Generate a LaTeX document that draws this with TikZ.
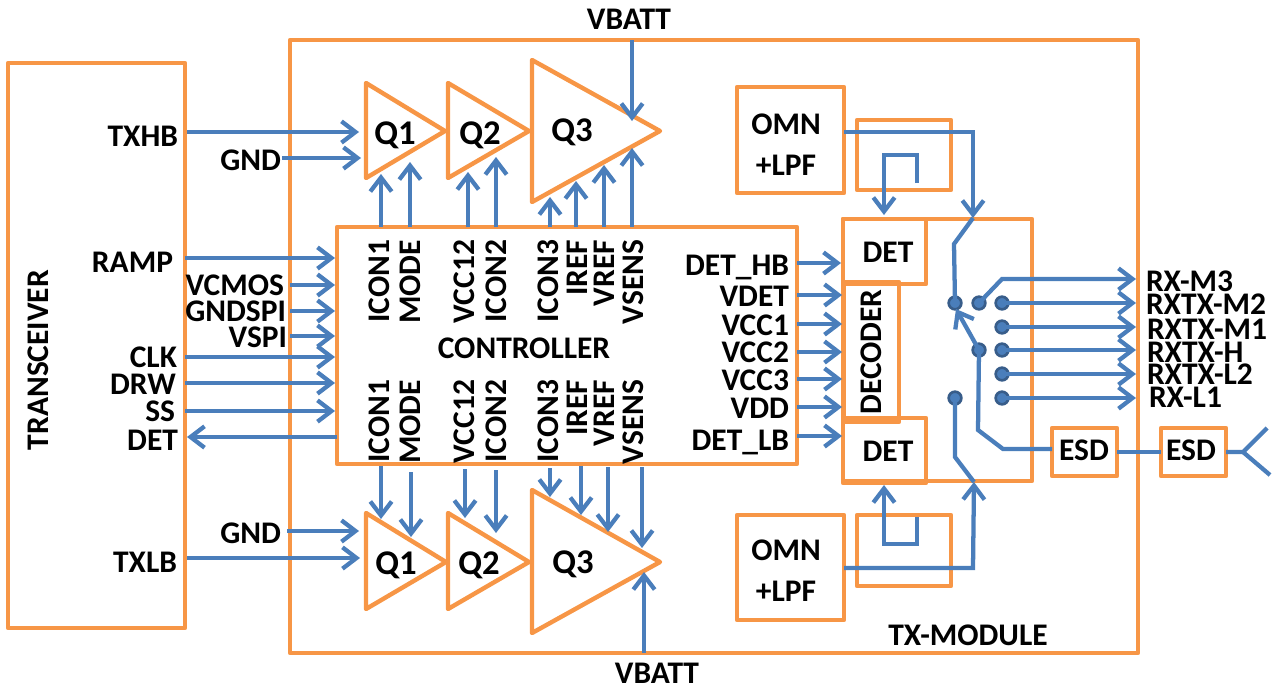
\documentclass[tikz,border=0pt]{standalone}
\usepackage{fontspec}
\setmainfont{Carlito}
\usetikzlibrary{arrows.meta,calc}
\definecolor{org}{HTML}{F79646}
\definecolor{blu}{HTML}{4A7EBB}
\definecolor{dotb}{HTML}{385D8A}
\newcommand{\bx}[5]{%
  \pgfmathsetmacro{\bw}{(#4-#2)*0.75}\pgfmathsetmacro{\bh}{(#5-#3)*0.75}%
  \node[boxn,minimum width=\bw pt,minimum height=\bh pt] (#1) at ({(#2+#4)/2},{(#3+#5)/2}) {};}
\tikzset{
  boxn/.style={draw=org,line width=3.3pt,line join=round,inner sep=0pt,outer sep=0pt,fill=none},
  tri/.style={draw=org,line width=3.3pt,line join=round},
  wire/.style={draw=blu,line width=3.2pt,line join=miter},
  arr/.style={wire,-{Straight Barb[length=10.5pt,width=16pt,line width=3.2pt]}},
  lbl/.style={font=\bfseries\fontsize{23.6}{24}\selectfont,text=black,inner sep=0pt,outer sep=0pt,text height=15pt,text depth=0pt},
  qlbl/.style={lbl,font=\bfseries\fontsize{26}{27}\selectfont,text height=16.5pt},
  dotn/.style={circle,draw=dotb,fill=blu,line width=2pt,minimum size=9.5pt,inner sep=0pt,outer sep=0pt},
}
\begin{document}
\begin{tikzpicture}[x=0.75pt,y=-0.75pt]
\useasboundingbox (0,0) rectangle (1273,689);
% boxes
\bx{trans}{8}{63}{185}{628}
\bx{mod}{290}{40}{1138}{653}
\bx{ctrl}{337}{227}{797}{464}
\bx{sw}{843}{219}{1032}{481}
\bx{dett}{843}{219}{926}{284}
\bx{detb}{843}{418}{926}{483}
\bx{dec}{844}{282}{899}{422}
\bx{omnt}{737}{87}{844}{193}
\bx{omnb}{737}{515}{844}{620}
\bx{cplt}{857}{120}{951}{190}
\bx{cplb}{857}{515}{951}{586}
\bx{esda}{1052}{428}{1117}{476}
\bx{esdb}{1161}{428}{1226}{476}
% triangles
\foreach \n/\xa/\ya/\yb/\xb/\yc in {t1/366/83/178/445/131,t2/448/83/178/529/131,t3/532/60/202/660/131,
  b1/366/513/609/446/562,b2/448/513/609/529/562,b3/532/490/633/660/562}{
  \coordinate (\n a) at (\xa,\ya);
  \coordinate (\n b) at (\xa,\yb);
  \coordinate (\n c) at (\xb,\yc);
  \draw[tri] (\n a) -- (\n c) -- (\n b) -- cycle;
}
% labels
\node[lbl,rotate=90] (ltrans) at (38,360) {TRANSCEIVER};
\node[qlbl] (lq1t) at (395,133) {Q1};
\node[qlbl] (lq2t) at (480,133) {Q2};
\node[qlbl] (lq3t) at (572,130) {Q3};
\node[qlbl] (lq1b) at (396,563) {Q1};
\node[qlbl] (lq2b) at (479,563) {Q2};
\node[qlbl] (lq3b) at (573,562) {Q3};
\node[lbl] (vbt) at (629,19) {VBATT};
\node[lbl] (vbb) at (657,673) {VBATT};
\node[lbl] (txm) at (968,635) {TX-MODULE};
\node[lbl] (cname) at (524,348) {CONTROLLER};
\node[lbl] (o1) at (786,124) {OMN};
\node[lbl] (o2) at (786,165) {+LPF};
\node[lbl] (o3) at (786,550) {OMN};
\node[lbl] (o4) at (786,591) {+LPF};
\node[lbl] (ld1) at (888,252) {DET};
\node[lbl] (ld2) at (888,451) {DET};
\node[lbl,rotate=90] (ldec) at (871,352) {DECODER};
\node[lbl] (le1) at (1084,450) {ESD};
\node[lbl] (le2) at (1191,450) {ESD};
% left labels (right-aligned)
\foreach \n/\x/\y/\t in {txhb/178/136/TXHB,gnda/281/160/GND,ramp/173/262/RAMP,vcmos/284/285/VCMOS,gndspi/286/311/GNDSPI,vspi/287/337/VSPI,clk/177/357/CLK,drw/176/384/DRW,ss/175/411/SS,det/178/440/DET,gndb/281/533/GND,txlb/177/562/TXLB}{
  \node[lbl,anchor=east] (l\n) at (\x,\y) {\t};
}
% controller right labels
\foreach \n/\y/\t in {dhb/265/DET\_HB,vdet/296/VDET,vcc1/325/VCC1,vcc2/352/VCC2,vcc3/380/VCC3,vdd/408/VDD,dlb/440/DET\_LB}{
  \node[lbl,anchor=east] (l\n) at (789,\y) {\t};
}
% vertical controller labels
\foreach \n/\x/\t in {a/379/ICON1,b/410/MODE,c/464/VCC12,d/496/ICON2,e/548/ICON3,f/577/IREF,g/604/VREF,h/633/VSENS}{
  \node[lbl,rotate=90,anchor=east] (vt\n) at (\x,240) {\t};
  \node[lbl,rotate=90,anchor=east] (vb\n) at (\x,380) {\t};
}
% right labels
\foreach \n/\x/\y/\t in {r1/1146/281/RX-M3,r2/1146/304/RXTX-M2,r3/1147/329/RXTX-M1,r4/1147/352/RXTX-H,r5/1147/374/RXTX-L2,r6/1149/397/RX-L1}{
  \node[lbl,anchor=west] (\n) at (\x,\y) {\t};
}
% dots
\foreach \n/\x/\y in {d1/955/303,d2/979/303,d3/1002/303,d4/1002/327,d5/979/350,d6/1002/350,d7/1002/374,d8/955/398,d9/1002/398}{
  \node[dotn] (\n) at (\x,\y) {};
}
% left inputs
\foreach \n/\x/\y in {ta/187/132,tb/282/158,tc/287/531,td/187/558}{
  \coordinate (s\n) at (\x,\y);
}
\coordinate (q1a) at (359,132); \coordinate (q1b) at (361,158);
\coordinate (q1c) at (359,531); \coordinate (q1d) at (360,558);
\draw[arr] (sta) -- (q1a);
\draw[arr] (stb) -- (q1b);
\draw[arr] (stc) -- (q1c);
\draw[arr] (std) -- (q1d);
% controller left connectors
\foreach \y in {258,357,383,411}{
  \coordinate (cl) at (335,\y);
  \draw[arr] (trans.east |- cl) -- (cl);
}
\foreach \y in {285,311,336}{
  \coordinate (cl) at (335,\y);
  \coordinate (cs) at (290,\y);
  \draw[arr] (cs) -- (cl);
}
\coordinate (cdet) at (187,437);
\draw[arr] (ctrl.west |- cdet) -- (cdet);
% controller right connectors
\foreach \y/\e in {263/841,295/842,324/842,352/842,379/842,407/842,436/842}{
  \coordinate (cr) at (\e,\y);
  \draw[arr] (ctrl.east |- cr) -- (cr);
}
% top amplifier controls
\foreach \x/\y in {381/174,410/162,468/172,496/157,550/197,576/181,604/165,632/148}{
  \coordinate (up) at (\x,\y);
  \draw[arr] (ctrl.north -| up) -- (up);
}
% bottom amplifier controls
\foreach \x/\s/\y in {381/466/519,411/472/537,465/469/518,496/470/533,550/468/497,581/466/515,608/467/532,642/467/548}{
  \coordinate (dns) at (\x,\s);
  \coordinate (dn) at (\x,\y);
  \draw[arr] (dns) -- (dn);
}
% VBATT
\coordinate (vt) at (632,121);
\coordinate (vb) at (644,572);
\draw[arr] (mod.north -| vt) -- (vt);
\draw[arr] (mod.south -| vb) -- (vb);
% top RF path
\coordinate (rt1) at (973,132);
\coordinate (rt2) at (973,218);
\coordinate (rt3) at (954,244);
\coordinate (ci1) at (917,183);
\coordinate (ci2) at (917,155);
\coordinate (ci3) at (884,155);
\coordinate (ci4) at (884,215);
\draw[arr] (omnt.east |- rt1) -- (rt1) -- (rt2);
\draw[wire] (rt2) -- (rt3) -- (d1.center);
\draw[arr] (ci1) -- (ci2) -- (ci3) -- (ci4);
% bottom RF path
\coordinate (rb1) at (973,568);
\coordinate (rb2) at (974,482);
\coordinate (rb3) at (955,457);
\coordinate (cj1) at (917,517);
\coordinate (cj2) at (917,544);
\coordinate (cj3) at (884,544);
\coordinate (cj4) at (884,485);
\draw[arr] (omnb.east |- rb1) -- (rb1) -- (rb2);
\draw[wire] (rb2) -- (rb3) -- (d8.center);
\draw[arr] (cj1) -- (cj2) -- (cj3) -- (cj4);
% switch outputs
\coordinate (m3k) at (1002,279);
\coordinate (m3e) at (1136,279);
\draw[arr] (d2.center) -- (m3k) -- (m3e);
\foreach \d in {d3,d4,d6,d7,d9}{
  \coordinate (oe) at (1136,0);
  \draw[arr] (\d.center) -- (oe |- \d);
}
% common arm
\coordinate (armtip) at (956,309);
\coordinate (arm1) at (978,430);
\coordinate (arm2) at (1003,449);
\draw[arr] (d5.center) -- (armtip);
\draw[wire] (d5.center) -- (arm1) -- (arm2) -- (esda.west |- arm2);
% ESD to antenna
\coordinate (lnk) at (1140,452);
\coordinate (ant) at (1243,452);
\coordinate (ant1) at (1267,428);
\coordinate (ant2) at (1270,475);
\draw[wire] (esda.east |- lnk) -- (esdb.west |- lnk);
\draw[wire] (esdb.east |- ant) -- (ant) -- (ant1);
\draw[wire] (ant) -- (ant2);
\end{tikzpicture}
\end{document}
